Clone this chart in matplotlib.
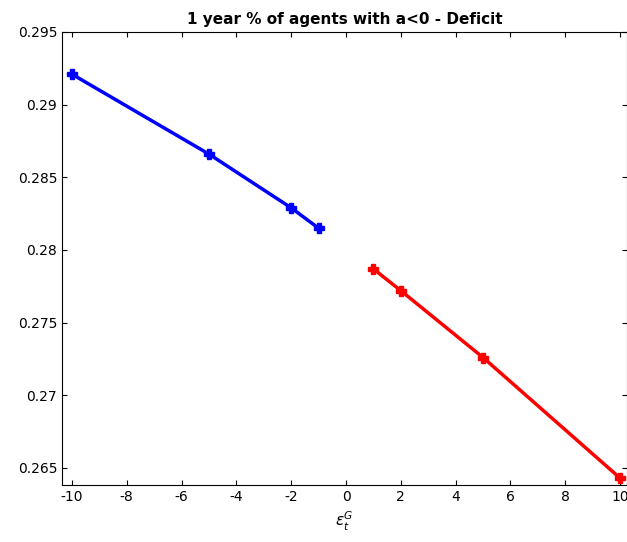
import matplotlib.pyplot as plt

neg_x = [-10, -5, -2, -1]
neg_y = [0.2921, 0.2866, 0.2829, 0.2815]
pos_x = [1, 2, 5, 10]
pos_y = [0.2787, 0.2772, 0.2726, 0.2643]
xticks = [-10, -8, -6, -4, -2, 0, 2, 4, 6, 8, 10]
yticks = [0.265, 0.27, 0.275, 0.28, 0.285, 0.29, 0.295]

fig = plt.figure(figsize=(6.27, 5.42), dpi=100)
ax = fig.add_axes([62 / 627, 1 - 485 / 542, 565 / 627, 453 / 542])
ax.plot(neg_x, neg_y, '-P', color='blue', lw=2.5, ms=7, mew=1)
ax.plot(pos_x, pos_y, '-P', color='red', lw=2.5, ms=7, mew=1)
ax.set_xlim(-10.36, 10.25)
ax.set_ylim(0.26383, 0.295)
ax.set_xticks(xticks)
ax.set_xticklabels([str(t) for t in xticks])
ax.set_yticks(yticks)
ax.set_yticklabels(['%g' % t for t in yticks])
ax.tick_params(direction='in', top=True, right=True, labelsize=10)
ax.set_title('1 year % of agents with a<0 - Deficit', fontsize=11, fontweight='bold')
ax.set_xlabel(r'$\epsilon_t^G$', fontsize=11)
fig.savefig('out.png', dpi=100)
